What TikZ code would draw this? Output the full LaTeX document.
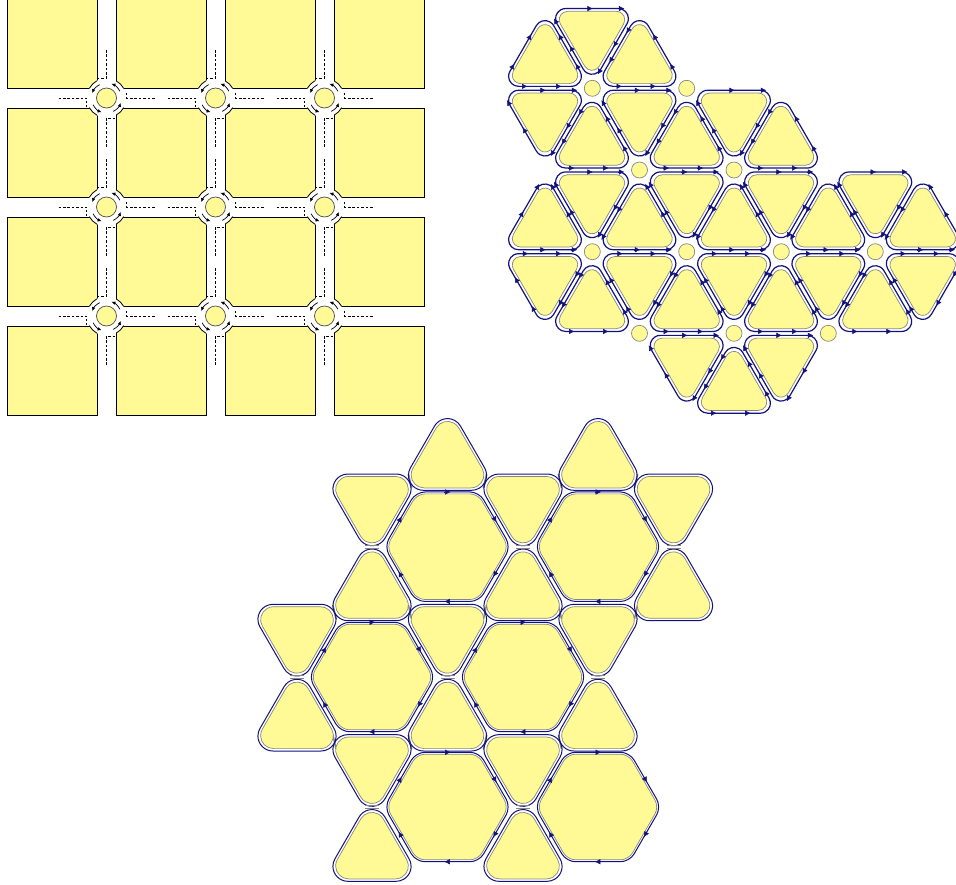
\documentclass[tikz,border=0pt]{standalone}
\usepackage{xcolor}
\usetikzlibrary{arrows.meta}
\usetikzlibrary{calc}
\definecolor{padyellow}{RGB}{255,250,150}
\definecolor{lanenavy}{RGB}{18,18,125}
\definecolor{padedge}{RGB}{135,135,125}
% path of a triangle with true round corners: first corner angle, corner distance, radius
\newcommand{\softtri}[3]{($(#1:#2)+(#1-60:#3)$) arc[start angle=#1-60, delta angle=120, radius=#3]
	-- ($(#1+120:#2)+(#1+60:#3)$) arc[start angle=#1+60, delta angle=120, radius=#3]
	-- ($(#1+240:#2)+(#1+180:#3)$) arc[start angle=#1+180, delta angle=120, radius=#3] -- cycle}
% one small triangle: centre, start angle, turn, two tip positions, last side
\newcommand{\lanetri}[7]{%
	\begin{scope}[shift={(#1,#2)}]
		\coordinate (p0) at (#3:50.5);
		\coordinate (p1) at (#3+#4:50.5);
		\coordinate (p2) at (#3+2*#4:50.5);
		\draw[lane, line width=1.2pt] \softtri{#3+2*#4}{30.5}{10};
		\draw[pad] \softtri{#3+2*#4}{28}{8.5};
		\foreach \u/\v in {p0/p1,p1/p2,#7} {
			\foreach \f in {#5,#6} {
				\draw[lanetip] ($(\u)!\f!(\v)$) -- ($(\u)!\f+0.07!(\v)$);
			}
		}
	\end{scope}}

\begin{document}
\begin{tikzpicture}[x=1pt, y=-1pt,
			lane/.style={lanenavy, line width=1pt},
			pad/.style={draw=padedge, fill=padyellow, line width=0.7pt},
			lanetip/.style={-{Latex[length=5.5pt, width=5.5pt]}, lanenavy, line width=0.5pt},
			block/.style={draw=black, fill=padyellow, line width=0.8pt},
			kerb/.style={black, line width=0.8pt},
			centreline/.style={black, line width=0.6pt, dash pattern=on 2.6pt off 1.8pt},
			ringarrow/.style={-{Latex[length=4pt, width=3.5pt]}, black, line width=0.7pt}]
		\useasboundingbox (0,0) rectangle (956,884);

		% square blocks
		\begin{scope}
			\foreach \sx in {7,116,225,334} {
				\foreach \sy in {-1,108,217,326} {
					\draw[block] (\sx,\sy) rectangle +(90,89);
				}
			}
			\foreach \jx in {106.5,215.5,324.5} {
				\foreach \jy in {98,207,316} {
					\begin{scope}[shift={(\jx,\jy)}]
						\fill[white] (0,0) circle (19.7);
						\foreach \a in {0,90,180,270} {
							\draw[kerb] (\a+29:19.7) arc[start angle=\a+29, end angle=\a+61, radius=19.7];
							\draw[ringarrow] (\a+333:15) arc[start angle=\a+333, end angle=\a+289, radius=15];
						}
						\draw[centreline] (0,-48) -- (0,-20) -- (-9,-20);
						\draw[centreline] (48,0) -- (20,0) -- (20,-7);
						\draw[centreline] (0,49) -- (0,20) -- (9,20);
						\draw[centreline] (-48,0) -- (-20,0) -- (-20,9);
						\draw[draw=black!70, fill=padyellow, line width=0.7pt] (0,0) circle (10);
					\end{scope}
				}
			}
		\end{scope}

		% triangle grid
		\begin{scope}
			\foreach \cy/\pa/\pb/\xlist in {61.1/.23/.62/{639.5}, 142.8/.23/.62/{592,686.7,781},
					224.5/.44/.8/{639.5,734,828.3,922.7}, 306.2/.23/.62/{592,686.7,781,875.3}, 387.9/.23/.62/{734}} {
				\foreach \cx in \xlist {
					\lanetri{\cx}{\cy}{150}{-120}{\pa}{\pb}{p2/p0}
				}
			}
			\lanetri{545}{61.1}{150}{-120}{.23}{.62}{p0/p2}
			\lanetri{545}{224.5}{150}{-120}{.44}{.8}{p0/p2}
			\foreach \cy/\pa/\pb/\xlist in {33.8/.44/.8/{592}, 115.5/.44/.8/{545,639.5,734},
					197.2/.44/.8/{592,686.7,781,875.3}, 278.9/.24/.62/{545,639.5,734,828.3,922.7}, 360.6/.44/.8/{686.7,781}} {
				\foreach \cx in \xlist {
					\lanetri{\cx}{\cy}{210}{120}{\pa}{\pb}{p2/p0}
				}
			}
			\foreach \ox/\oy in {592.3/88.3,686.7/88.3,639.5/170,734/170,592.3/251.7,686.7/251.7,781.3/251.7,875.3/251.7,639.5/333.3,734/333.3,828.3/333.3} {
				\draw[pad] (\ox,\oy) circle (8);
			}
		\end{scope}

		% hexagons and triangles
		\begin{scope}
			\foreach \bx/\by/\bs in {410/481/1,485/481/-1,560/481/1,636/481/-1,
					334.5/612/1,410/612/1,485/612/-1,560/612/1,636/612/-1,
					334.5/742/1,410/742/1,485/742/-1,560/742/1} {
				\draw[padedge, line width=1.6pt] (\bx-1.6*\bs,\by-7) -- (\bx+1.6*\bs,\by+7);
			}
			\foreach \cx/\cy in {447.5/461.4,598/461.4,372/591.8,523/591.8,673.5/591.8,297/722.1,447.5/722.1,598/722.1,372/852.4,523/852.4} {
				\begin{scope}[shift={(\cx,\cy)}]
					\draw[lane] \softtri{270}{27.8}{15};
					\draw[pad] \softtri{270}{27}{13};
				\end{scope}
			}
			\foreach \cx/\cy in {372/502.9,523/502.9,673.5/502.9,297/633.2,447.5/633.2,598/633.2,372/763.5,523/763.5} {
				\begin{scope}[shift={(\cx,\cy)}]
					\draw[lane] \softtri{90}{27.8}{15};
					\draw[pad] \softtri{90}{27}{13};
				\end{scope}
			}
			\foreach \bx/\by in {372/547,523/547,673.5/547,297/677,447.5/677,598/677,372/807,523/807} {
				\draw[padedge, line width=0.9pt] (\bx-7,\by-1.6) -- (\bx+7,\by-1.6) (\bx-7,\by+1.6) -- (\bx+7,\by+1.6);
			}
			\foreach \cx/\cy in {447.5/546.7,598/546.7,372/677,523/677,447.5/807,598/807} {
				\begin{scope}[shift={(\cx,\cy)}]
					\draw[lane, rounded corners=9pt] (30:54.7) \foreach \a in {60,120,...,360} {-- (\a:63.2)} -- cycle;
					\draw[pad, rounded corners=8pt] (30:52.8) \foreach \a in {60,120,...,360} {-- (\a:61)} -- cycle;
					\foreach \a in {0,60,...,300} {
						\draw[lanetip] ($(\a:63.2)!0.45!(\a+60:63.2)$) -- ($(\a:63.2)!0.55!(\a+60:63.2)$);
					}
				\end{scope}
			}
		\end{scope}
	\end{tikzpicture}
\end{document}
